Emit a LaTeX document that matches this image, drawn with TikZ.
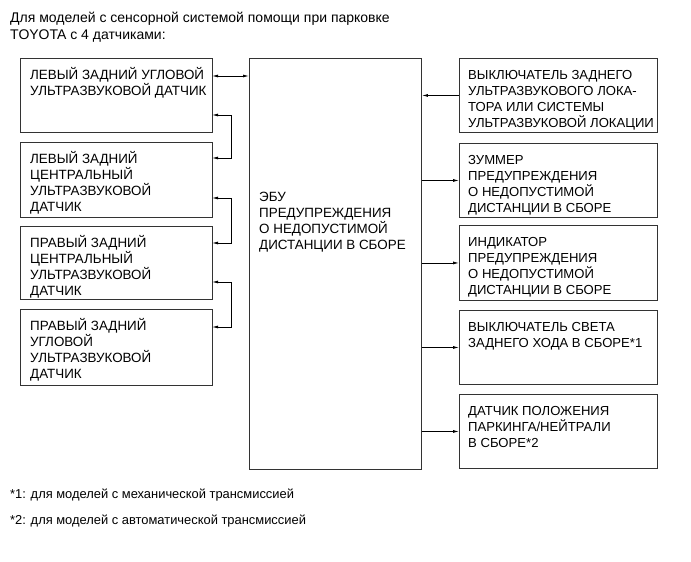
\documentclass[tikz,border=0pt]{standalone}
\usepackage{fontspec}
\setmainfont{Liberation Sans}
\usetikzlibrary{arrows.meta}
\begin{document}
\begin{tikzpicture}[x=1pt,y=-1pt,
  box/.style={draw=black!80,line width=0.9pt,inner sep=0pt,anchor=north west},
  txt/.style={anchor=north west,inner sep=0pt,align=left,font=\fontsize{13.4}{16}\selectfont},
  rtxt/.style={txt,font=\fontsize{13.1}{16}\selectfont},
  arr/.style={line width=0.8pt,-{Latex[length=6pt,width=3pt]}},
  arrb/.style={line width=0.8pt,{Latex[length=6pt,width=3pt]}-{Latex[length=6pt,width=3pt]}},
  note/.style={anchor=base west,inner sep=0pt,font=\fontsize{12.9}{15}\selectfont}]
\useasboundingbox[fill=white] (0,0) rectangle (691,562);
\newcommand{\fs}{\rule{0pt}{13pt}}
% title
\node[anchor=north west,inner sep=0pt,align=left,font=\fontsize{14}{17}\selectfont] (title) at (10,9)
  {\rule{0pt}{13pt}Для моделей с сенсорной системой помощи при парковке\\TOYOTA с 4 датчиками:};
% left boxes
\node[box,minimum width=192pt,minimum height=74pt] (l1) at (20,58) {};
\node[box,minimum width=192pt,minimum height=75pt] (l2) at (20,142) {};
\node[box,minimum width=192pt,minimum height=73pt] (l3) at (20,226) {};
\node[box,minimum width=192pt,minimum height=76pt] (l4) at (20,309) {};
\node[txt] (t1) at ([xshift=10pt,yshift=-8pt]l1.north west) {\fs ЛЕВЫЙ ЗАДНИЙ УГЛОВОЙ\\УЛЬТРАЗВУКОВОЙ ДАТЧИК};
\node[txt] (t2) at ([xshift=10pt,yshift=-8pt]l2.north west) {\fs ЛЕВЫЙ ЗАДНИЙ\\ЦЕНТРАЛЬНЫЙ\\УЛЬТРАЗВУКОВОЙ\\ДАТЧИК};
\node[txt] (t3) at ([xshift=10pt,yshift=-8pt]l3.north west) {\fs ПРАВЫЙ ЗАДНИЙ\\ЦЕНТРАЛЬНЫЙ\\УЛЬТРАЗВУКОВОЙ\\ДАТЧИК};
\node[txt] (t4) at ([xshift=10pt,yshift=-8pt]l4.north west) {\fs ПРАВЫЙ ЗАДНИЙ\\УГЛОВОЙ\\УЛЬТРАЗВУКОВОЙ\\ДАТЧИК};
% ECU
\node[box,minimum width=172pt,minimum height=411pt] (ecu) at (249,58) {};
\node[txt] (te) at (259,188) {\fs ЭБУ\\ПРЕДУПРЕЖДЕНИЯ\\О НЕДОПУСТИМОЙ\\ДИСТАНЦИИ В СБОРЕ};
% right boxes
\node[box,minimum width=198pt,minimum height=74pt] (r1) at (459,58) {};
\node[box,minimum width=198pt,minimum height=74pt] (r2) at (459,143) {};
\node[box,minimum width=198pt,minimum height=75pt] (r3) at (459,225) {};
\node[box,minimum width=198pt,minimum height=74pt] (r4) at (459,310) {};
\node[box,minimum width=198pt,minimum height=74pt] (r5) at (459,394) {};
\node[rtxt] (s1) at ([xshift=9pt,yshift=-8pt]r1.north west) {\fs ВЫКЛЮЧАТЕЛЬ ЗАДНЕГО\\УЛЬТРАЗВУКОВОГО ЛОКА-\\ТОРА ИЛИ СИСТЕМЫ\\УЛЬТРАЗВУКОВОЙ ЛОКАЦИИ};
\node[rtxt] (s2) at ([xshift=9pt,yshift=-8pt]r2.north west) {\fs ЗУММЕР\\ПРЕДУПРЕЖДЕНИЯ\\О НЕДОПУСТИМОЙ\\ДИСТАНЦИИ В СБОРЕ};
\node[rtxt] (s3) at ([xshift=9pt,yshift=-8pt]r3.north west) {\fs ИНДИКАТОР\\ПРЕДУПРЕЖДЕНИЯ\\О НЕДОПУСТИМОЙ\\ДИСТАНЦИИ В СБОРЕ};
\node[rtxt] (s4) at ([xshift=9pt,yshift=-8pt]r4.north west) {\fs ВЫКЛЮЧАТЕЛЬ СВЕТА\\ЗАДНЕГО ХОДА В СБОРЕ*1};
\node[rtxt] (s5) at ([xshift=9pt,yshift=-8pt]r5.north west) {\fs ДАТЧИК ПОЛОЖЕНИЯ\\ПАРКИНГА/НЕЙТРАЛИ\\В СБОРЕ*2};
% connectors left
\coordinate (a0) at (212,76);
\draw[arrb] (a0) -- (ecu.west |- a0);
\coordinate (a1) at (212,115);
\coordinate (b1) at (212,158);
\coordinate (a2) at (212,198);
\coordinate (b2) at (212,243);
\coordinate (a3) at (212,282);
\coordinate (b3) at (212,327);
\draw[arrb] (a1) -- (231,115) -- (231,158) -- (b1);
\draw[arrb] (a2) -- (231,198) -- (231,243) -- (b2);
\draw[arrb] (a3) -- (231,282) -- (231,327) -- (b3);
% connectors right
\draw[arr] (r1.west) -- (ecu.east |- r1.west);
\draw[arr] (ecu.east |- r2.west) -- (r2.west);
\draw[arr] (ecu.east |- r3.west) -- (r3.west);
\draw[arr] (ecu.east |- r4.west) -- (r4.west);
\draw[arr] (ecu.east |- r5.west) -- (r5.west);
% notes
\node[note] (n1) at (10,498) {*1: для моделей с механической трансмиссией};
\node[note] (n2) at (10,524) {*2: для моделей с автоматической трансмиссией};
\end{tikzpicture}
\end{document}
